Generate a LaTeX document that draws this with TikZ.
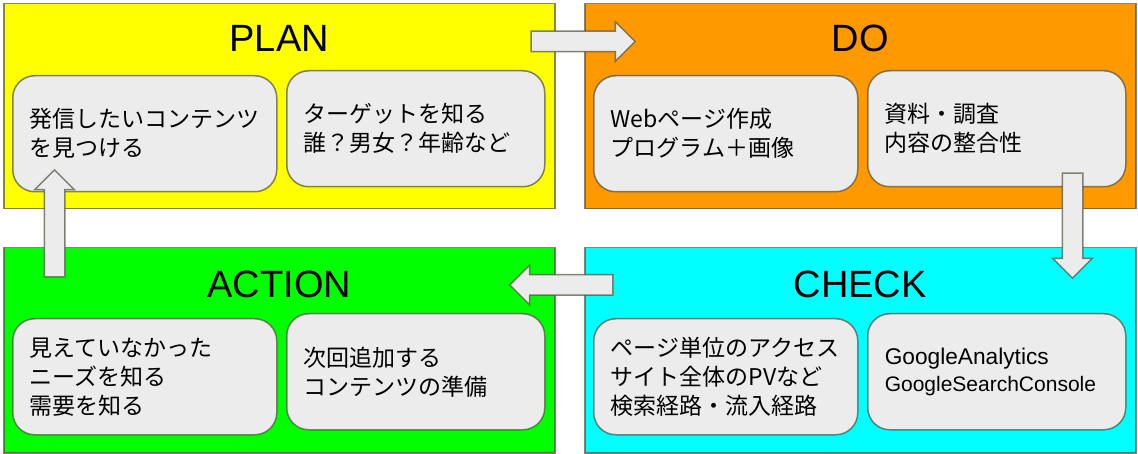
\documentclass[tikz,border=0pt]{standalone}
\usepackage{fontspec}
\setmainfont{Liberation Sans}
\newfontfamily\jpfont{Noto Sans CJK JP}
\usetikzlibrary{positioning,shapes.arrows}
\definecolor{amarillo}{RGB}{255,255,0}
\definecolor{naranja}{RGB}{255,153,0}
\definecolor{verdec}{RGB}{0,255,0}
\definecolor{cian}{RGB}{0,255,255}
\definecolor{grisc}{RGB}{236,236,236}
\definecolor{borde}{RGB}{80,80,64}
\tikzset{
  fase/.style={draw=borde, draw opacity=0.7, line width=1.5pt, anchor=north west, inner sep=0pt, minimum width=551pt, minimum height=205pt},
  titulo/.style={inner sep=0pt, font=\fontsize{38}{40}\selectfont},
  tarea/.style={draw=borde, draw opacity=0.7, fill=grisc, line width=1.5pt, rounded corners=22pt, minimum height=116pt, text width=230pt, inner xsep=17pt, align=left, font=\jpfont\fontsize{23}{29}\selectfont},
  tareab/.style={tarea, text width=224pt},
  flecha/.style={single arrow, draw=borde, draw opacity=0.7, fill=grisc, line width=1.5pt, inner xsep=0pt, inner ysep=9.5pt, single arrow head extend=9.5pt, single arrow tip angle=90},
  flechav/.style={flecha, inner xsep=9.5pt, inner ysep=0pt},
}
\begin{document}
\begin{tikzpicture}[x=1pt, y=-1pt]
  \useasboundingbox (0,0) rectangle (1138,454);
  % fases
  \node[fase, fill=amarillo] (plan) at (3,3) {};
  \node[fase, fill=naranja] (do) at (584,3) {};
  \node[fase, fill=verdec] (act) at (3,247) {};
  \node[fase, fill=cian] (chk) at (584,247) {};
  \node[titulo, below=22pt of plan.north] (tplan) {PLAN};
  \node[titulo, below=22pt of do.north] (tdo) {DO};
  \node[titulo, below=24pt of act.north] (tact) {ACTION};
  \node[titulo, below=24pt of chk.north] (tchk) {CHECK};
  % tareas
  \node[tarea, below right=72pt and 9pt of plan.north west] (p1) {発信したいコンテンツ\\を見つける};
  \node[tareab, below right=67pt and 283pt of plan.north west] (p2) {ターゲットを知る\\誰？男女？年齢など};
  \node[tarea, below right=72pt and 9pt of do.north west] (d1) {Webページ作成\\プログラム＋画像};
  \node[tareab, below right=67pt and 283pt of do.north west] (d2) {資料・調査\\内容の整合性};
  \node[tarea, below right=71pt and 9pt of act.north west] (a1) {見えていなかった\\ニーズを知る\\需要を知る};
  \node[tareab, below right=66pt and 283pt of act.north west] (a2) {次回追加する\\コンテンツの準備};
  \node[tarea, below right=71pt and 9pt of chk.north west] (c1) {ページ単位のアクセス\\サイト全体のPVなど\\検索経路・流入経路};
  \node[tareab, below right=66pt and 283pt of chk.north west, font=\fontsize{22.7}{27}\selectfont] (c2)
    {GoogleAnalytics\\{\fontsize{21}{27}\selectfont GoogleSearchConsole}};
  % flechas
  \node[flecha, minimum height=104pt] (f1) at (578,41.5) {};
  \node[flechav, minimum height=105pt, shape border rotate=270] (f2) at (1072.5,220.5) {};
  \node[flecha, minimum height=103pt, shape border rotate=180] (f3) at (566.5,285) {};
  \node[flechav, minimum height=107pt, shape border rotate=90] (f4) at (54.5,228.5) {};
\end{tikzpicture}
\end{document}
